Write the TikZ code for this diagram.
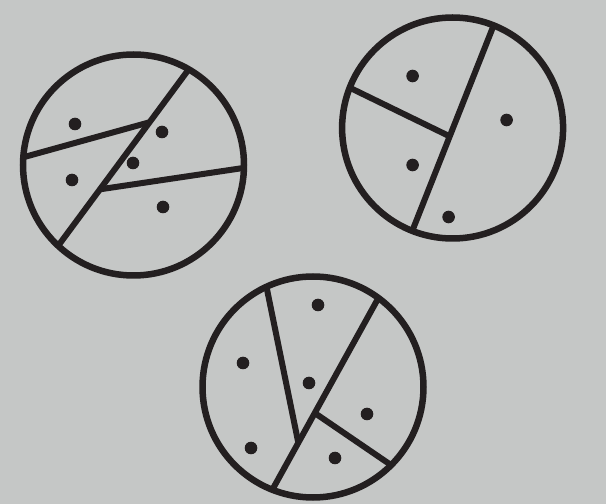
\documentclass[tikz,border=0pt]{standalone}
\usetikzlibrary{calc}
\definecolor{bggray}{RGB}{197,199,198}
\definecolor{ink}{RGB}{35,31,32}
\tikzset{
    rim/.style={line width=6.5pt, draw=ink},
    cut/.style={line width=6pt, draw=ink},
    seed/.style={fill=ink},
}
\begin{document}
\begin{tikzpicture}[x=1pt,y=1pt]
    \fill[bggray] (0,0) rectangle (606,504);

    % upper left
    \begin{scope}[shift={(133.5,339)}]
        \draw[rim] (0,0) circle (110.5pt);
        \coordinate (la1) at (60:110.5pt);
        \coordinate (la2) at (227:110.5pt);
        \coordinate (lb1) at (176:110.5pt);
        \coordinate (lb2) at ($(la1)!0.3!(la2)$);
        \coordinate (lc1) at ($(la1)!0.68!(la2)$);
        \coordinate (lc2) at (358.5:110.5pt);
        \draw[cut] (la1) -- (la2);
        \draw[cut] (lb1) -- (lb2);
        \draw[cut] (lc1) -- (lc2);
        \fill[seed] (-58.5,41) circle (6.3pt);
        \fill[seed] (28.5,33) circle (6.3pt);
        \fill[seed] (-0.5,2) circle (6.3pt);
        \fill[seed] (-61.5,-15) circle (6.3pt);
        \fill[seed] (29.5,-42) circle (6.3pt);
    \end{scope}

    % upper right
    \begin{scope}[shift={(452.6,376)}]
        \draw[rim] (0,0) circle (110.5pt);
        \coordinate (ra1) at (68.2:110.5pt);
        \coordinate (ra2) at (248.6:110.5pt);
        \coordinate (rb1) at (158.6:110.5pt);
        \coordinate (rb2) at ($(ra1)!0.54!(ra2)$);
        \draw[cut] (ra1) -- (ra2);
        \draw[cut] (rb1) -- (rb2);
        \fill[seed] (-40,52) circle (6.3pt);
        \fill[seed] (54,8) circle (6.3pt);
        \fill[seed] (-40,-37) circle (6.3pt);
        \fill[seed] (-4,-89) circle (6.3pt);
    \end{scope}

    % bottom
    \begin{scope}[shift={(313,117)}]
        \draw[rim] (0,0) circle (110.5pt);
        \coordinate (ba1) at (53.7:110.5pt);
        \coordinate (ba2) at (248.4:110.5pt);
        \coordinate (bb1) at (114.9:110.5pt);
        \coordinate (bb2) at ($(ba1)!0.755!(ba2)$);
        \coordinate (bc1) at ($(ba1)!0.6!(ba2)$);
        \coordinate (bc2) at (315:110.5pt);
        \draw[cut] (ba1) -- (ba2);
        \draw[cut] (bb1) -- (bb2);
        \draw[cut] (bc1) -- (bc2);
        \fill[seed] (5,82) circle (6.3pt);
        \fill[seed] (-70,24) circle (6.3pt);
        \fill[seed] (-4,4) circle (6.3pt);
        \fill[seed] (54,-27) circle (6.3pt);
        \fill[seed] (-62,-61) circle (6.3pt);
        \fill[seed] (22,-71) circle (6.3pt);
    \end{scope}
\end{tikzpicture}
\end{document}
